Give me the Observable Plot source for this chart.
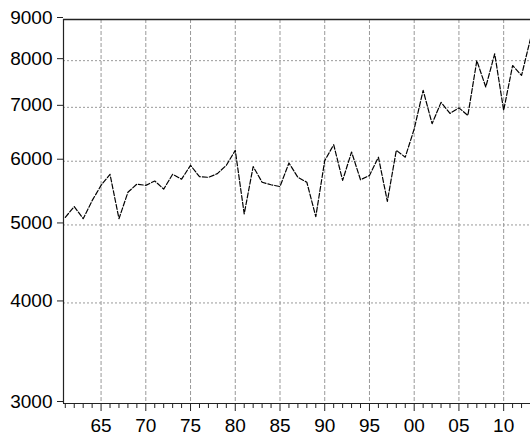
<!DOCTYPE html>
<html>
<head>
<meta charset="utf-8">
<script src="https://cdn.jsdelivr.net/npm/d3@7"></script>
<script src="https://cdn.jsdelivr.net/npm/@observablehq/plot@0.6"></script>
<style>
  html, body { margin: 0; padding: 0; background: #fff; }
  svg { display: block; }
</style>
</head>
<body>
<div id="chart"></div>
<script>
const years = d3.range(1961, 2014);
const values = [
  5110, 5270, 5090, 5360, 5600, 5780, 5090, 5490, 5620, 5600,
  5670, 5540, 5780, 5700, 5930, 5740, 5730, 5790, 5930, 6190,
  5160, 5910, 5650, 5610, 5580, 5970, 5730, 5650, 5120, 6010,
  6290, 5680, 6160, 5690, 5760, 6070, 5350, 6190, 6070, 6580,
  7350, 6680, 7100, 6880, 6990, 6840, 8000, 7420, 8160, 6940,
  7890, 7670, 8520
];
const xDomain = [1960.8, 2013];
const yDomain = [3000, 9000];
const yTicks = [3000, 4000, 5000, 6000, 7000, 8000, 9000];
const yGrid = [4000, 5000, 6000, 7000, 8000];
const majorYears = [1965, 1970, 1975, 1980, 1985, 1990, 1995, 2000, 2005, 2010];
const minorYears = years.filter(y => y % 5 !== 0);

const data = years.map((year, i) => ({year, value: values[i]}));

const chart = Plot.plot({
  width: 530,
  height: 441,
  marginLeft: 63,
  marginRight: 0,
  marginTop: 19,
  marginBottom: 38,
  style: {fontFamily: "Arial, 'Liberation Sans', sans-serif", fontSize: "19px", color: "#000", background: "#fff"},
  x: {domain: xDomain, label: null},
  y: {type: "log", domain: yDomain, label: null},
  marks: [
    Plot.ruleX(majorYears, {stroke: "#999", strokeWidth: 1, strokeDasharray: "4,2"}),
    Plot.ruleY(yGrid, {stroke: "#999", strokeWidth: 1, strokeDasharray: "2,2"}),
    Plot.ruleX([xDomain[0]], {stroke: "#222", strokeWidth: 1.2}),
    Plot.ruleY([yDomain[0]], {stroke: "#222", strokeWidth: 1.2}),
    Plot.ruleY([yDomain[1]], {stroke: "#222", strokeWidth: 1.5}),
    Plot.axisY(yTicks, {tickSize: 6, tickPadding: 5, tickFormat: d => String(d), dy: -2, fontSize: 19, stroke: "#222", label: null}),
    Plot.axisX(majorYears, {tickSize: 8, tickPadding: 7, tickFormat: d => String(d % 100).padStart(2, "0"), fontSize: 19, stroke: "#222", label: null}),
    Plot.ruleX(minorYears, {y1: yDomain[0], y2: yDomain[0], insetBottom: -5, stroke: "#222"}),
    Plot.line(data, {x: "year", y: "value", stroke: "#000", strokeWidth: 1.2, strokeDasharray: "5,2"})
  ]
});
document.getElementById("chart").appendChild(chart);
</script>
</body>
</html>
